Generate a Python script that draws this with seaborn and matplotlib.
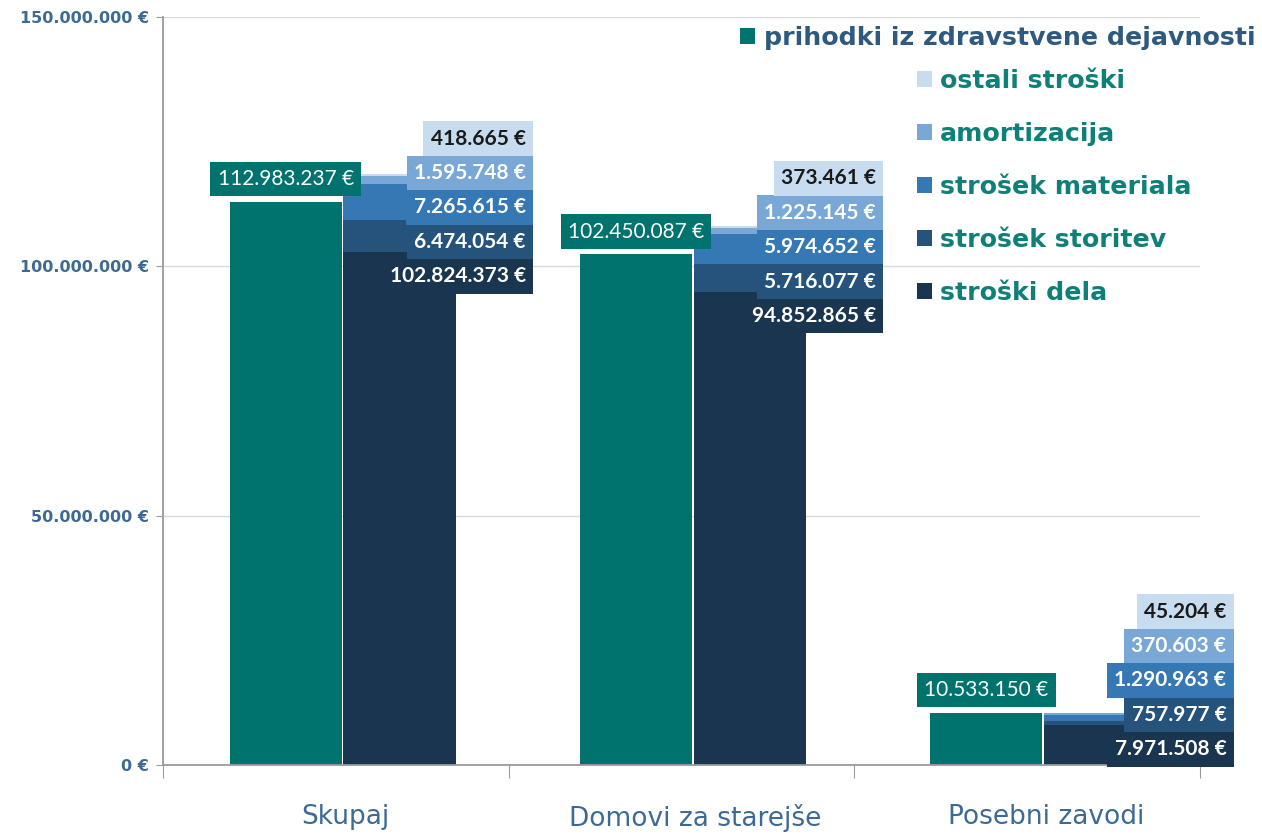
import numpy as np
import pandas as pd
import matplotlib
matplotlib.use("Agg")
import matplotlib.pyplot as plt
from matplotlib.patches import Patch
import seaborn as sns

# data
categories = ["Skupaj", "Domovi za starejše", "Posebni zavodi"]
prihodki = [112983237, 102450087, 10533150]
stroski_dela = [102824373, 94852865, 7971508]
strosek_storitev = [6474054, 5716077, 757977]
strosek_materiala = [7265615, 5974652, 1290963]
amortizacija = [1595748, 1225145, 370603]
ostali_stroski = [418665, 373461, 45204]

stack_names = ["stroški dela", "strošek storitev", "strošek materiala", "amortizacija", "ostali stroški"]
stack_values = [stroski_dela, strosek_storitev, strosek_materiala, amortizacija, ostali_stroski]
stack_colors = ["#19354f", "#26537b", "#3678b4", "#79a8d6", "#c7dcee"]
stack_text = ["white", "white", "white", "white", "#1a1a1a"]
teal = "#00736f"
axis_blue = "#3d6a94"

def fmt(v):
    return f"{v:,}".replace(",", ".") + " €"

sns.set_style("white")
plt.rcParams["font.family"] = ["Lato", "DejaVu Sans"]

fig = plt.figure(figsize=(12.62, 8.35), dpi=100)
ax = fig.add_axes([0.1292, 0.0838, 0.8217, 0.8958])

pos = np.arange(len(categories))
w = 0.32
teal_x = pos - 0.17
stack_x = pos + 0.155

df_teal = pd.DataFrame({"x": teal_x, "y": prihodki})
sns.barplot(data=df_teal, x="x", y="y", native_scale=True, width=w,
            color=teal, saturation=1, ax=ax, errorbar=None, linewidth=0)

# stacked bars: cumulative totals drawn from the top layer down
cum = np.cumsum(np.array(stack_values), axis=0)
for i in range(len(stack_names) - 1, -1, -1):
    d = pd.DataFrame({"x": stack_x, "y": cum[i]})
    sns.barplot(data=d, x="x", y="y", native_scale=True, width=w,
                color=stack_colors[i], saturation=1, ax=ax, errorbar=None, linewidth=0)

ax.set_ylim(0, 150e6)
xlim = (-0.52, 2.44)
ax.set_xlim(*xlim)

# value labels
step = 6.9e6
for j in range(len(categories)):
    ax.text(teal_x[j], prihodki[j] + 4.5e6, fmt(prihodki[j]), ha="center", va="center",
            fontsize=15, color="white",
            bbox=dict(boxstyle="square,pad=0.35", fc=teal, ec="none"))
    base = stack_values[0][j] - 4.8e6
    xr = stack_x[j] + w / 2 + 0.2
    for i in range(len(stack_names)):
        ax.text(xr, base + i * step, fmt(stack_values[i][j]), ha="right", va="center",
                fontsize=15, fontweight="bold", color=stack_text[i], clip_on=False,
                bbox=dict(boxstyle="square,pad=0.35", fc=stack_colors[i], ec="none"))

# axes styling
ax.yaxis.grid(True, color="#d9d9d9", linewidth=1)
ax.set_axisbelow(True)
for s in ["top", "right"]:
    ax.spines[s].set_visible(False)
for s in ["left", "bottom"]:
    ax.spines[s].set_color("#9a9a9a")
    ax.spines[s].set_linewidth(1.3)

ticks = [0, 50e6, 100e6, 150e6]
ax.set_yticks(ticks)
ax.set_yticklabels([fmt(int(t)) for t in ticks], fontsize=11.5, fontweight="bold",
                   color=axis_blue, family="DejaVu Sans")
ax.tick_params(axis="y", length=5, color="#9a9a9a", left=True, pad=5)

ax.set_xticks(np.linspace(xlim[0], xlim[1], 4))
ax.set_xticklabels([])
ax.set_xticks(pos, minor=True)
ax.set_xticklabels(categories, minor=True, fontsize=19, color=axis_blue, family="DejaVu Sans")
ax.tick_params(axis="x", which="major", length=9, color="#9a9a9a", bottom=True)
ax.tick_params(axis="x", which="minor", length=0, pad=28)
ax.set_xlabel("")
ax.set_ylabel("")

# legends
leg_font = {"family": "DejaVu Sans", "weight": "bold", "size": 18.2}
h1 = [Patch(facecolor=teal, edgecolor="none")]
leg1 = ax.legend(h1, ["prihodki iz zdravstvene dejavnosti"], loc="center left",
                 bbox_to_anchor=(0.5864, 0.9545), bbox_transform=fig.transFigure,
                 frameon=False, prop=leg_font, handlelength=0.6, handleheight=0.6,
                 handletextpad=0.35, borderaxespad=0, borderpad=0)
for t in leg1.get_texts():
    t.set_color("#2e5a80")
ax.add_artist(leg1)

h2 = [Patch(facecolor=c, edgecolor="none") for c in stack_colors[::-1]]
leg2 = ax.legend(h2, stack_names[::-1], loc="center left",
                 bbox_to_anchor=(0.7266, 0.776), bbox_transform=fig.transFigure,
                 frameon=False, prop=leg_font, handlelength=0.6, handleheight=0.6,
                 handletextpad=0.32, labelspacing=1.15, borderaxespad=0, borderpad=0)
for t in leg2.get_texts():
    t.set_color("#0e8078")

fig.savefig("out.png", dpi=100)
